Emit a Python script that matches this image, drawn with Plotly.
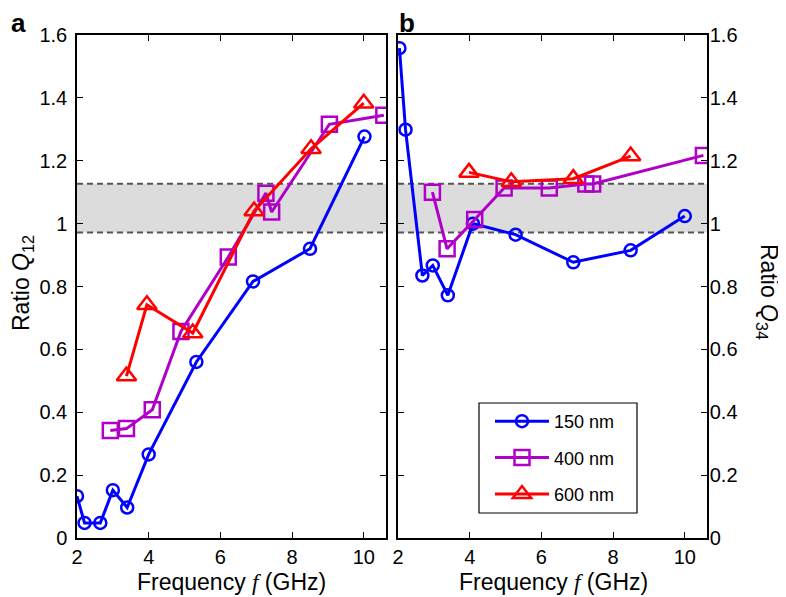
import plotly.graph_objects as go

# ---------------- data ----------------
series_names = ["150 nm", "400 nm", "600 nm"]

# Panel a : Ratio Q12
a_f_150 = [2.0, 2.21, 2.65, 3.0, 3.4, 4.0, 5.33, 6.91, 8.5, 10.02]
a_q_150 = [0.133, 0.048, 0.048, 0.152, 0.097, 0.266, 0.56, 0.816, 0.92, 1.277]
a_f_400 = [2.93, 3.38, 4.1, 4.9, 6.22, 7.27, 7.43, 9.04, 10.56]
a_q_400 = [0.342, 0.348, 0.408, 0.657, 0.894, 1.097, 1.037, 1.316, 1.345]
a_f_600 = [3.38, 3.95, 5.23, 6.94, 8.53, 10.0]
a_q_600 = [0.515, 0.742, 0.652, 1.04, 1.238, 1.383]

# Panel b : Ratio Q34
b_f_150 = [2.04, 2.21, 2.68, 2.97, 3.39, 4.09, 5.28, 6.89, 8.49, 10.0]
b_q_150 = [1.558, 1.299, 0.835, 0.867, 0.772, 1.0, 0.965, 0.877, 0.915, 1.024]
b_f_400 = [2.96, 3.37, 4.14, 4.96, 6.22, 7.24, 7.43, 10.52]
b_q_400 = [1.1, 0.92, 1.013, 1.113, 1.113, 1.126, 1.126, 1.217]
b_f_600 = [3.98, 5.16, 6.89, 8.49]
b_q_600 = [1.163, 1.133, 1.143, 1.215]

band_low, band_high = 0.972, 1.127
x_range = [2, 10.62]
y_range = [0, 1.6]
x_ticks = [2, 4, 6, 8, 10]
y_ticks = [0, 0.2, 0.4, 0.6, 0.8, 1, 1.2, 1.4, 1.6]

colors = ["#0000FF", "#B000C8", "#FF0000"]
symbols = ["circle-open", "square-open", "triangle-up-open"]
msizes = [12, 15, 17]

FONT = "Liberation Sans, Arial, sans-serif"
W, H = 786, 597
OFF = 8  # page body margin of the browser


def px(x):
    return (x - OFF) / W


def py(y):
    return 1 - (y - OFF) / H


fig = go.Figure()

panels = [
    ("x", "y", [(a_f_150, a_q_150), (a_f_400, a_q_400), (a_f_600, a_q_600)], True),
    ("x2", "y2", [(b_f_150, b_q_150), (b_f_400, b_q_400), (b_f_600, b_q_600)], False),
]

for xa, ya, data, first in panels:
    fig.add_shape(type="rect", xref=xa, yref=ya, x0=x_range[0], x1=x_range[1],
                  y0=band_low, y1=band_high, fillcolor="#DCDCDC", line_width=0,
                  layer="below")
    for yy in (band_low, band_high):
        fig.add_shape(type="line", xref=xa, yref=ya, x0=x_range[0], x1=x_range[1],
                      y0=yy, y1=yy, line=dict(color="#555555", width=2, dash="6px,4px"),
                      layer="below")
    for i, (fx, qy) in enumerate(data):
        fig.add_trace(go.Scatter(
            x=fx, y=qy, xaxis=xa, yaxis=ya, mode="lines+markers",
            name=series_names[i], legendgroup=series_names[i], showlegend=not first,
            line=dict(color=colors[i], width=3),
            marker=dict(symbol=symbols[i], size=msizes[i], color=colors[i],
                        line=dict(width=2.5, color=colors[i])),
        ))

# legend frame
fig.add_shape(type="rect", xref="paper", yref="paper", x0=px(479), x1=px(637),
              y0=py(513), y1=py(403), fillcolor="white",
              line=dict(color="black", width=1.2), layer="below")

ax_common = dict(range=x_range, tickvals=x_ticks, ticks="inside", ticklen=6,
                 tickwidth=1.2, tickcolor="black", showline=True, linecolor="black",
                 linewidth=1.5, mirror="ticks", showgrid=False, zeroline=False,
                 automargin=False,
                 tickfont=dict(family=FONT, size=20, color="black"))
ay_common = dict(range=y_range, tickvals=y_ticks, ticks="inside", ticklen=6,
                 tickwidth=1.2, tickcolor="black", showline=True, linecolor="black",
                 linewidth=1.5, mirror="ticks", showgrid=False, zeroline=False,
                 automargin=False,
                 tickfont=dict(family=FONT, size=20, color="black"))

fig.update_layout(
    template="none",
    width=W, height=H,
    margin=dict(l=0, r=0, t=0, b=0, pad=0),
    paper_bgcolor="white", plot_bgcolor="white",
    xaxis=dict(domain=[px(77), px(386)], anchor="y", **ax_common),
    yaxis=dict(domain=[py(538), py(35)], anchor="x", ticklabelstandoff=4, **ay_common),
    xaxis2=dict(domain=[px(398), px(707)], anchor="y2", **ax_common),
    yaxis2=dict(domain=[py(538), py(35)], anchor="x2", side="right",
                ticklabelstandoff=-3, **ay_common),
    showlegend=True,
    legend=dict(x=px(490), y=py(403), xanchor="left", yanchor="top",
                bgcolor="rgba(0,0,0,0)", borderwidth=0,
                font=dict(family=FONT, size=18, color="black"),
                tracegroupgap=10, itemwidth=54),
    font=dict(family=FONT, color="black"),
)

ann = [
    dict(text="<b>a</b>", x=18, y=23, size=26, angle=0),
    dict(text="<b>b</b>", x=407, y=23, size=26, angle=0),
    dict(text="Ratio <i>Q</i><sub>12</sub>", x=22, y=283, size=23, angle=-90),
    dict(text="Ratio <i>Q</i><sub>34</sub>", x=768, y=292, size=23, angle=90),
    dict(text="Frequency <span style='font-family:Liberation Serif'><i>f</i></span> (GHz)",
         x=231, y=582, size=23, angle=0),
    dict(text="Frequency <span style='font-family:Liberation Serif'><i>f</i></span> (GHz)",
         x=553, y=582, size=23, angle=0),
]
for a in ann:
    fig.add_annotation(text=a["text"], x=px(a["x"]), y=py(a["y"]), xref="paper", yref="paper",
                       showarrow=False, xanchor="center", yanchor="middle",
                       textangle=a["angle"], font=dict(family=FONT, size=a["size"], color="black"))

fig.write_html("out.html")
